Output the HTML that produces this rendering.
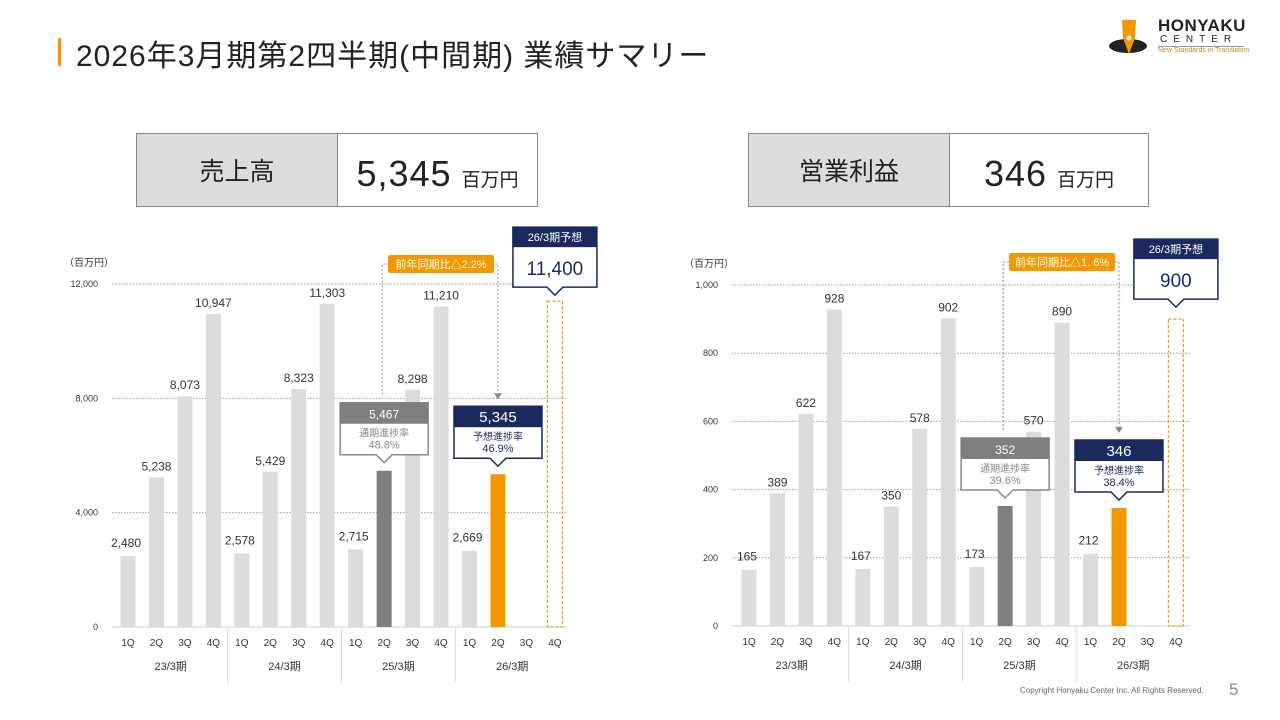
<!DOCTYPE html>
<html><head><meta charset="utf-8">
<style>
body{margin:0;width:1280px;height:720px;background:#fff;font-family:"Liberation Sans","Noto Sans CJK JP",sans-serif;position:relative;overflow:hidden;color:#333}
.abs{position:absolute}
.kpi{position:absolute;border:1.5px solid #888;display:flex;height:74px;box-sizing:border-box}
.kpi .lab{background:#dcdcdc;border-right:1.5px solid #888;display:flex;align-items:center;justify-content:center;font-size:25px;color:#222}
.kpi .val{display:flex;align-items:flex-end;justify-content:center;flex:1;padding-bottom:14px;color:#222}
.kpi .num{font-size:36px;letter-spacing:1px;line-height:36px}
.kpi .unit{font-size:19px;margin-left:10px}
</style></head><body>
<div class="abs" style="left:58px;top:38px;width:3px;height:28px;background:#f39800"></div>
<div class="abs" style="left:76px;top:31px;font-size:30px;color:#222;letter-spacing:1px">2026年3月期第2四半期(中間期) 業績サマリー</div>
<div class="abs" style="left:1108px;top:16px;width:140px;height:44px">
 <svg width="40" height="44" style="position:absolute;left:0;top:0"><ellipse cx="20" cy="30" rx="19" ry="7" fill="#222"/><path d="M14 4 L28 4 L27 22 L21 38 L15 22 Z" fill="#f39800"/><circle cx="21" cy="22" r="2.5" fill="#fff"/></svg>
 <div class="abs" style="left:50px;top:0;font-size:17px;font-weight:bold;color:#222;letter-spacing:0.5px">HONYAKU</div>
 <div class="abs" style="left:52px;top:18px;font-size:10px;color:#222;letter-spacing:6px">CENTER</div>
 <div class="abs" style="left:50px;top:30px;width:86px;border-top:1px solid #999"></div>
 <div class="abs" style="left:50px;top:31px;font-size:7px;color:#c98a10;white-space:nowrap">New Standards in Translation</div>
</div>
<div class="kpi" style="left:136px;top:133px;width:402px"><div class="lab" style="width:200px">売上高</div><div class="val"><span class="num">5,345</span><span class="unit">百万円</span></div></div>
<div class="kpi" style="left:748px;top:133px;width:401px"><div class="lab" style="width:200px">営業利益</div><div class="val"><span class="num">346</span><span class="unit">百万円</span></div></div>
<svg id="chart" class="abs" style="left:0;top:0" width="1280" height="720"></svg>
<div class="abs" style="left:1020px;top:686px;font-size:8px;color:#666">Copyright Honyaku Center Inc. All Rights Reserved.</div>
<div class="abs" style="left:1229px;top:680px;font-size:17px;color:#888">5</div>
<script>
const quarters=["1Q","2Q","3Q","4Q"];
const periods=["23/3期","24/3期","25/3期","26/3期"];
const salesValues=[2480,5238,8073,10947,2578,5429,8323,11303,2715,5467,8298,11210,2669,5345,null,null];
const salesForecast=11400;
const salesTicks=[0,4000,8000,12000];
const opValues=[165,389,622,928,167,350,578,902,173,352,570,890,212,346,null,null];
const opForecast=900;
const opTicks=[0,200,400,600,800,1000];
const svg=document.getElementById('chart');
const NS='http://www.w3.org/2000/svg';
function mk(tag,attrs,text){const e=document.createElementNS(NS,tag);for(const k in attrs)e.setAttribute(k,attrs[k]);if(text!==undefined)e.textContent=text;svg.appendChild(e);return e;}
function fmt(v){return v.toLocaleString('en-US');}
function drawChart(c,vals,fc,ticks,prevPct,curPct,yoy){
  const y=v=>c.y0-(v/c.max)*(c.y0-c.yTop);
  const x=i=>c.x0+i*c.step;
  let t=mk('text',{x:c.axisX-48,y:c.yTop-18,'font-size':10,fill:'#333'},'（百万円）');
  
  ticks.forEach(v=>{
    let l=mk('line',{x1:c.axisX,x2:c.axisX2,y1:y(v),y2:y(v),stroke:v===0?'#ccc':'#999','stroke-dasharray':v===0?'':'1.5,1.5','stroke-width':1});
    
    let tt=mk('text',{x:c.axisX-14,y:y(v)+3,'font-size':9,'text-anchor':'end',fill:'#333'},fmt(v));
    
  });
  vals.forEach((v,i)=>{
    const q=quarters[i%4];
    let ql=mk('text',{x:x(i),y:c.y0+19,'font-size':10,'text-anchor':'middle',fill:'#333'},q);
    
    if(v===null)return;
    const col=i===9?'#7f7f7f':(i===13?'#f39800':'#dcdcdc');
    let r=mk('rect',{x:x(i)-7.5,y:y(v),width:15,height:c.y0-y(v),fill:col});
    
    if(i!==9&&i!==13){
      const ly=(i%4===0)?y(v)-9:y(v)-7;
      let lt=mk('text',{x:x(i)-(i%4===0?2:0),y:ly,'font-size':12,'text-anchor':'middle',fill:'#333'},fmt(v));
      
    }
  });
  periods.forEach((p,g)=>{
    const cx=(x(g*4)+x(g*4+3))/2;
    let pl=mk('text',{x:cx,y:c.y0+43,'font-size':11,'text-anchor':'middle',fill:'#333'},p);
    
    if(g>0){let s=mk('line',{x1:x(g*4)-c.step/2,x2:x(g*4)-c.step/2,y1:c.y0+1,y2:c.y0+56,stroke:'#ddd'});}
  });
  let fb=mk('rect',{x:x(15)-7.5,y:y(fc),width:15,height:c.y0-y(fc),fill:'none',stroke:'#f39800','stroke-dasharray':'3,2','stroke-width':1.2});
  
  const fx=x(15), fyb=y(fc)-c.fcGap, fw=84, fh=60;
  let fg=mk('path',{d:`M${fx-fw/2} ${fyb-fh} h${fw} v${fh} h-${fw/2-8} l-8 8 l-8 -8 h-${fw/2-8} z`,fill:'#fff',stroke:'#1a2a5e','stroke-width':1.5});
  
  mk('rect',{x:fx-fw/2,y:fyb-fh,width:fw,height:20,fill:'#1a2a5e'});
  mk('text',{x:fx,y:fyb-fh+14,'font-size':11,'text-anchor':'middle',fill:'#fff'},'26/3期予想');
  let fv=mk('text',{x:fx,y:fyb-12,'font-size':19,'text-anchor':'middle',fill:'#1a2a5e'},fmt(fc));
  
  function callout(i,v,pct,label,dark,name){
    const cx=x(i), by=y(v)-8, w=88, h=52, top=by-h-8;
    const stroke=dark?'#1a2a5e':'#888';
    let p=mk('path',{d:`M${cx-w/2} ${top} h${w} v${h} h-${w/2-8} l-8 8 l-8 -8 h-${w/2-8} z`,fill:'#fff',stroke:stroke,'stroke-width':1.5});
    
    mk('rect',{x:cx-w/2,y:top,width:w,height:21,fill:dark?'#1a2a5e':'#7f7f7f'});
    mk('text',{x:cx,y:top+16,'font-size':dark?15:12,'text-anchor':'middle',fill:'#fff'},fmt(v));
    mk('text',{x:cx,y:top+34,'font-size':10,'text-anchor':'middle',fill:dark?'#1a2a5e':'#888'},label);
    mk('text',{x:cx,y:top+46,'font-size':11,'text-anchor':'middle',fill:dark?'#1a2a5e':'#888'},pct);
    return top;
  }
  const t1=callout(9,vals[9],prevPct,'通期進捗率',false,'prev-progress-callout');
  const t2=callout(13,vals[13],curPct,'予想進捗率',true,'cur-progress-callout');
  const yy=c.yoyY;
  mk('path',{d:`M${x(9)-2} ${t1-8} V${yy} H${x(13)} V${t2-12}`,fill:'none',stroke:'#888','stroke-dasharray':'2,2'});
  mk('path',{d:`M${x(13)-4} ${t2-13} L${x(13)+4} ${t2-13} L${x(13)} ${t2-7} Z`,fill:'#888'});
  const bw=106, bx=(x(9)+x(13))/2-bw/2;
  let yb=mk('rect',{x:bx,y:yy-9,width:bw,height:18,rx:2,fill:'#f39800'});
  
  mk('text',{x:bx+bw/2,y:yy+4,'font-size':11,'text-anchor':'middle',fill:'#fff'},yoy);
}
drawChart({x0:128,step:28.46,y0:627,yTop:284,max:12000,axisX:112,axisX2:567,yoyY:264,fcGap:14},salesValues,salesForecast,salesTicks,'48.8%','46.9%','前年同期比△2.2%');
drawChart({x0:749,step:28.46,y0:626,yTop:285,max:1000,axisX:732,axisX2:1190,yoyY:262,fcGap:20},opValues,opForecast,opTicks,'39.6%','38.4%','前年同期比△1. 6%');
</script>
</body></html>
